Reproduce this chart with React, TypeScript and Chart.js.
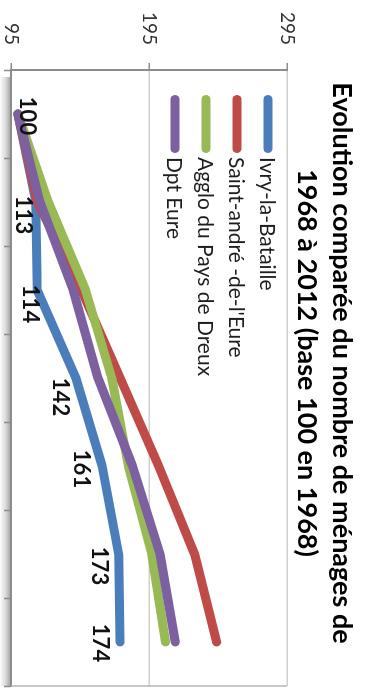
import { useEffect, useRef } from "react";
import { Chart, registerables } from "chart.js";

Chart.register(...registerables);

// Census years (not printed on the axis) and household index series, base 100 in 1968
const CATEGORIES = ["1968", "1975", "1982", "1990", "1999", "2007", "2012"];
const IVRY = [100, 113, 114, 142, 161, 173, 174];
const SAINT_ANDRE = [100, 114, 146, 174, 202, 228, 244];
const AGGLO_DREUX = [100, 122, 149, 168, 180, 197, 207];
const DPT_EURE = [100, 116, 140, 158, 183, 203, 214];

const SERIES_NAMES = [
  "Ivry-la-Bataille",
  "Saint-andré -de-l'Eure",
  "Agglo du Pays de Dreux",
  "Dpt Eure",
];
const SERIES_VALUES = [IVRY, SAINT_ANDRE, AGGLO_DREUX, DPT_EURE];
const SERIES_COLORS = ["#4A7EBB", "#BE4B48", "#98B954", "#7D60A0"];

const VALUE_TICKS = [95, 195, 295];
const TITLE_LINES = [
  "Evolution comparée du nombre de ménages de",
  "1968 à 2012 (base 100 en 1968)",
];

// Styling
const FONT = "Lato, 'Open Sans', sans-serif";
const AXIS_COLOR = "#8C8C8C";
const GRID_COLOR = "#D0D0D0";
const W = 688;
const H = 365;
// label nudges (dx, dy) relative to each Ivry point
const LABEL_NUDGE: [number, number][] = [
  [2, -9],
  [13, 13],
  [14, 7],
  [19, 16],
  [3, 21],
  [12, 20],
  [1, 20],
];

const axisShadow = {
  id: "axisShadow",
  beforeDraw(chart: any) {
    const { ctx, chartArea } = chart;
    const y0 = chartArea.bottom;
    const g = ctx.createLinearGradient(0, y0, 0, y0 + 11);
    g.addColorStop(0, "rgba(0,0,0,0.38)");
    g.addColorStop(0.45, "rgba(0,0,0,0.16)");
    g.addColorStop(1, "rgba(0,0,0,0)");
    ctx.save();
    ctx.fillStyle = g;
    ctx.fillRect(chartArea.left + 7, y0, chartArea.right - chartArea.left - 7, 11);
    ctx.restore();
  },
};

const plotFrame = {
  id: "plotFrame",
  beforeDatasetsDraw(chart: any) {
    const { ctx, chartArea } = chart;
    ctx.save();
    ctx.strokeStyle = "#B4B4B4";
    ctx.lineWidth = 1.5;
    ctx.beginPath();
    ctx.moveTo(chartArea.right, chartArea.top);
    ctx.lineTo(chartArea.right, chartArea.bottom);
    ctx.stroke();
    ctx.restore();
  },
};

const valueLabels = {
  id: "valueLabels",
  afterDatasetsDraw(chart: any) {
    const { ctx } = chart;
    const meta = chart.getDatasetMeta(0);
    ctx.save();
    ctx.font = `bold 22px ${FONT}`;
    ctx.fillStyle = "#111111";
    ctx.textAlign = "center";
    ctx.textBaseline = "middle";
    meta.data.forEach((pt: any, i: number) => {
      const [dx, dy] = LABEL_NUDGE[i];
      ctx.fillText(String(IVRY[i]), pt.x + dx, pt.y + dy);
    });
    ctx.restore();
  },
};

const inlineLegend = {
  id: "inlineLegend",
  afterDraw(chart: any) {
    const { ctx, chartArea } = chart;
    const x0 = chartArea.left + 29.5;
    const x1 = chartArea.left + 78.5;
    ctx.save();
    ctx.font = `21px ${FONT}`;
    ctx.textBaseline = "middle";
    ctx.textAlign = "left";
    SERIES_NAMES.forEach((name, i) => {
      const y = chartArea.top + 19 + i * 31;
      ctx.strokeStyle = SERIES_COLORS[i];
      ctx.lineWidth = 9;
      ctx.lineCap = "round";
      ctx.beginPath();
      ctx.moveTo(x0, y);
      ctx.lineTo(x1, y);
      ctx.stroke();
      ctx.fillStyle = "#1E1E1E";
      ctx.fillText(name, chartArea.left + 87, y + 1);
    });
    ctx.restore();
  },
};

const chartTitle = {
  id: "chartTitle",
  afterDraw(chart: any) {
    const { ctx } = chart;
    ctx.save();
    ctx.font = `bold 27px ${FONT}`;
    ctx.fillStyle = "#000000";
    ctx.textAlign = "center";
    ctx.textBaseline = "alphabetic";
    ctx.fillText(TITLE_LINES[0], 363, 32);
    ctx.fillText(TITLE_LINES[1], 363, 67);
    ctx.restore();
  },
};

export default function App() {
  const ref = useRef<HTMLCanvasElement>(null);

  useEffect(() => {
    const canvas = ref.current;
    if (!canvas) return;
    const chart = new Chart(canvas, {
      type: "line",
      data: {
        labels: CATEGORIES,
        datasets: SERIES_VALUES.map((values, i) => ({
          label: SERIES_NAMES[i],
          data: values,
          borderColor: SERIES_COLORS[i],
          backgroundColor: SERIES_COLORS[i],
          borderWidth: 9,
          borderCapStyle: "round",
          borderJoinStyle: "round",
          pointRadius: 0,
          pointHoverRadius: 0,
          tension: 0,
          fill: false,
          clip: false,
          order: SERIES_VALUES.length - 1 - i,
        })),
      },
      options: {
        responsive: false,
        animation: false,
        devicePixelRatio: 1,
        events: [],
        layout: { padding: { top: 78, right: 2, left: 0, bottom: 0 } },
        plugins: {
          legend: { display: false },
          title: { display: false },
          tooltip: { enabled: false },
        },
        scales: {
          x: {
            type: "category",
            offset: true,
            grid: {
              offset: true,
              drawOnChartArea: false,
              drawTicks: true,
              tickLength: 7,
              tickColor: AXIS_COLOR,
              tickWidth: 1.5,
            },
            border: { display: true, color: AXIS_COLOR, width: 2 },
            ticks: { display: false },
            afterFit: (s: any) => {
              s.height = 11;
              s.paddingLeft = 0;
              s.paddingRight = 0;
            },
          },
          y: {
            type: "linear",
            min: 95,
            max: 295,
            afterBuildTicks: (s: any) => {
              s.ticks = VALUE_TICKS.map((v) => ({ value: v }));
            },
            ticks: {
              padding: 18,
              color: "#333333",
              font: { family: FONT, size: 19 },
            },
            grid: {
              color: GRID_COLOR,
              lineWidth: 1.5,
              tickLength: 7,
              tickColor: AXIS_COLOR,
              tickWidth: 1.5,
            },
            border: { display: true, color: AXIS_COLOR, width: 2 },
            afterFit: (s: any) => {
              s.width = 70;
              s.paddingTop = 0;
              s.paddingBottom = 0;
            },
          },
        },
      },
      plugins: [axisShadow, plotFrame, valueLabels, inlineLegend, chartTitle],
    } as any);
    return () => chart.destroy();
  }, []);

  return (
    <div
      style={{
        position: "fixed",
        left: 0,
        top: 0,
        width: H,
        height: W,
        overflow: "hidden",
        background: "#ffffff",
      }}
    >
      <canvas
        ref={ref}
        width={W}
        height={H}
        style={{
          position: "absolute",
          left: 0,
          top: 0,
          width: W,
          height: H,
          transformOrigin: "0 0",
          transform: `translateX(${H}px) rotate(90deg)`,
        }}
      />
    </div>
  );
}
